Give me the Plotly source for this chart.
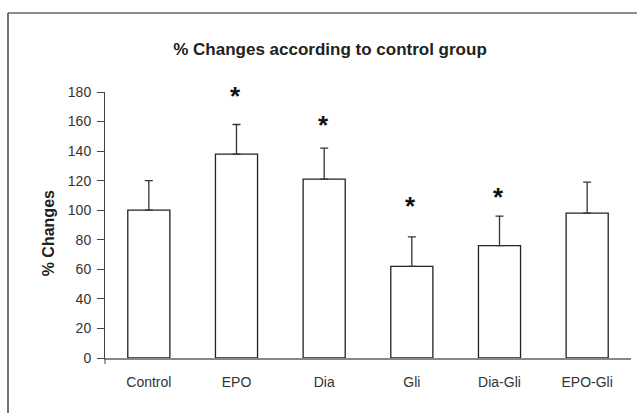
import plotly.graph_objects as go

categories = ["Control", "EPO", "Dia", "Gli", "Dia-Gli", "EPO-Gli"]
values = [100, 138, 121, 62, 76, 98]
errors = [20, 20, 21, 20, 20, 21]
star_y = [None, 179, 160, 105, 111, None]
y_ticks = [0, 20, 40, 60, 80, 100, 120, 140, 160, 180]

FONT = "Liberation Sans, Arial, sans-serif"

fig = go.Figure()
fig.add_trace(go.Bar(
    x=categories, y=values,
    marker=dict(color="white", line=dict(color="#222222", width=1.3)),
    error_y=dict(type="data", symmetric=False, array=errors,
                 arrayminus=[0] * len(errors),
                 color="#333333", thickness=1.3, width=4),
    width=0.48, showlegend=False, hoverinfo="skip",
))

annotations = []
for cat, sy in zip(categories, star_y):
    if sy is None:
        continue
    annotations.append(dict(
        x=cat, y=sy, xref="x", yref="y", text="<b>*</b>", showarrow=False,
        xanchor="center", yanchor="middle", yshift=-3, xshift=-1,
        font=dict(family=FONT, size=26, color="#111111"),
    ))

L, R, T, B = 105, 6, 92, 55
W, H = 637, 413
annotations.append(dict(
    x=0, y=0.5, xref="paper", yref="paper", text="<b>% Changes</b>", showarrow=False,
    textangle=-90, xanchor="center", yanchor="middle", xshift=48.3 - L, yshift=-8,
    font=dict(family=FONT, size=16, color="#222222"),
))

fig.update_layout(
    width=W, height=H,
    margin=dict(l=L, r=R, t=T, b=B, pad=0),
    paper_bgcolor="white", plot_bgcolor="white",
    font=dict(family=FONT, size=14, color="#333333"),
    title=dict(text="<b>% Changes according to control group</b>",
               font=dict(family=FONT, size=17, color="#222222"),
               x=(330 - L) / (W - L - R), xref="paper", xanchor="center",
               y=1 - 49 / H, yref="container", yanchor="middle"),
    xaxis=dict(type="category", range=[-0.5, 5.5], showgrid=False,
               showline=True, linecolor="#888888", linewidth=1.5,
               ticks="outside", ticklen=10, tickcolor="rgba(0,0,0,0)",
               tickfont=dict(size=14, color="#333333"), zeroline=False),
    yaxis=dict(range=[0, 180], tickvals=y_ticks, showgrid=False,
               showline=True, linecolor="#444444", linewidth=1,
               ticks="outside", ticklen=7, tickcolor="#444444",
               ticklabelstandoff=3,
               tickfont=dict(size=14, color="#333333"), zeroline=False),
    annotations=annotations,
    shapes=[
        dict(type="line", xref="paper", yref="paper", xsizemode="pixel", ysizemode="pixel",
             xanchor=0, yanchor=0, x0=0, x1=0, y0=0, y1=-6,
             line=dict(color="#444444", width=1)),
        dict(type="line", xref="paper", yref="paper", xsizemode="pixel", ysizemode="pixel",
             xanchor=0, yanchor=1, x0=8 - L, x1=W - L + 5, y0=T - 13, y1=T - 13,
             line=dict(color="#666666", width=1.5)),
        dict(type="line", xref="paper", yref="paper", xsizemode="pixel", ysizemode="pixel",
             xanchor=0, yanchor=1, x0=8 - L, x1=8 - L, y0=T - 13, y1=-(H - T) - 5,
             line=dict(color="#444444", width=1.5)),
    ],
)

fig.write_html("out.html")
